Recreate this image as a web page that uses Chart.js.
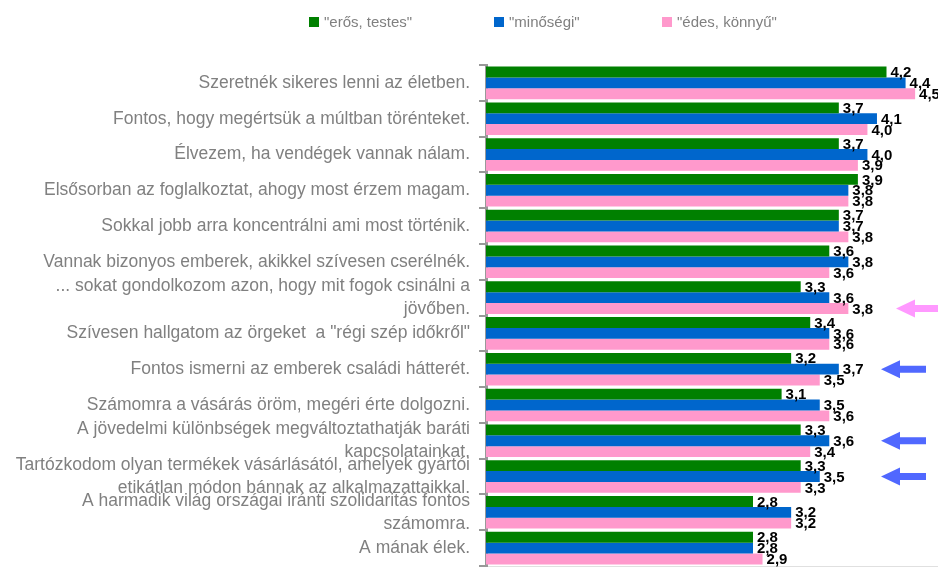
<!DOCTYPE html>
<html>
<head>
<meta charset="utf-8">
<script src="https://cdn.jsdelivr.net/npm/chart.js@4.4.1/dist/chart.umd.min.js"></script>
<style>
    html, body { margin: 0; padding: 0; background: #fff; overflow: hidden; }
    #wrap { position: relative; width: 938px; height: 567px; }
    #legend { position: absolute; top: 0; left: 0; width: 938px; height: 40px; font-family: 'Liberation Sans', Arial, sans-serif; font-size: 15px; color: #808080; }
    #legend .item { position: absolute; top: 13px; display: flex; align-items: center; white-space: nowrap; }
    #legend .box { width: 10px; height: 10px; margin-right: 5px; }
</style>
</head>
<body>
<div id="wrap">
    <canvas id="chart" width="938" height="567"></canvas>
    <div id="legend"></div>
</div>
<script>
/* ==========================================
   Horizontal grouped bars - attitude items
   ========================================== */

const categories = [
    'Szeretnék sikeres lenni az életben.',
    'Fontos, hogy megértsük a múltban törénteket.',
    'Élvezem, ha vendégek vannak nálam.',
    'Elsősorban az foglalkoztat, ahogy most érzem magam.',
    'Sokkal jobb arra koncentrálni ami most történik.',
    'Vannak bizonyos emberek, akikkel szívesen cserélnék.',
    ['... sokat gondolkozom azon, hogy mit fogok csinálni a', 'jövőben.'],
    'Szívesen hallgatom az örgeket  a "régi szép időkről"',
    'Fontos ismerni az emberek családi hátterét.',
    'Számomra a vásárás öröm, megéri érte dolgozni.',
    ['A jövedelmi különbségek megváltoztathatják baráti', 'kapcsolatainkat.'],
    ['Tartózkodom olyan termékek vásárlásától, amelyek gyártói', 'etikátlan módon bánnak az alkalmazattaikkal.'],
    ['A harmadik világ országai iránti szolidaritás fontos', 'számomra.'],
    'A mának élek.'
];

const seriesNames = ['"erős, testes"', '"minőségi"', '"édes, könnyű"'];
const strongValues  = [4.2, 3.7, 3.7, 3.9, 3.7, 3.6, 3.3, 3.4, 3.2, 3.1, 3.3, 3.3, 2.8, 2.8];
const qualityValues = [4.4, 4.1, 4.0, 3.8, 3.7, 3.8, 3.6, 3.6, 3.7, 3.5, 3.6, 3.5, 3.2, 2.8];
const sweetValues   = [4.5, 4.0, 3.9, 3.8, 3.8, 3.6, 3.8, 3.6, 3.5, 3.6, 3.4, 3.3, 3.2, 2.9];

// highlighted rows: [category index, series index]
const arrowRows = [[6, 2], [8, 1], [10, 1], [11, 1]];

const colors = ['#008000', '#0066CC', '#FF99CC'];
const arrowColors = ['#008000', '#5068FF', '#FF99FF'];
const FONT = "'Liberation Sans', Arial, sans-serif";

// legend (html, uneven spacing like the original)
const legendLeft = [309, 494, 662];
const legendEl = document.getElementById('legend');
seriesNames.forEach((name, i) => {
    const it = document.createElement('div');
    it.className = 'item';
    it.style.left = legendLeft[i] + 'px';
    it.innerHTML = '<span class="box" style="background:' + colors[i] + '"></span><span>' + name + '</span>';
    legendEl.appendChild(it);
});

const valueLabels = {
    id: 'valueLabels',
    afterDatasetsDraw(chart) {
        const ctx = chart.ctx;
        ctx.save();
        ctx.font = 'bold 15px ' + FONT;
        ctx.fillStyle = '#000';
        ctx.textAlign = 'left';
        ctx.textBaseline = 'middle';
        chart.data.datasets.forEach((ds, di) => {
            chart.getDatasetMeta(di).data.forEach((bar, i) => {
                ctx.fillText(ds.data[i].toFixed(1).replace('.', ','), bar.x + 4, bar.y + 1);
            });
        });
        ctx.restore();
    }
};

const arrows = {
    id: 'arrows',
    afterDraw(chart) {
        const ctx = chart.ctx;
        ctx.save();
        arrowRows.forEach(([row, di]) => {
            const bar = chart.getDatasetMeta(di).data[row];
            const y = bar.y;
            const x0 = di === 2 ? 896 : 881;
            const len = di === 2 ? 46 : 45;
            ctx.fillStyle = arrowColors[di];
            ctx.beginPath();
            ctx.moveTo(x0, y);
            ctx.lineTo(x0 + 19, y - 9);
            ctx.lineTo(x0 + 19, y - 3.5);
            ctx.lineTo(x0 + len, y - 3.5);
            ctx.lineTo(x0 + len, y + 3.5);
            ctx.lineTo(x0 + 19, y + 3.5);
            ctx.lineTo(x0 + 19, y + 9);
            ctx.closePath();
            ctx.fill();
        });
        ctx.restore();
    }
};

new Chart(document.getElementById('chart'), {
    type: 'bar',
    data: {
        labels: categories,
        datasets: [
            { label: seriesNames[0], data: strongValues, backgroundColor: colors[0] },
            { label: seriesNames[1], data: qualityValues, backgroundColor: colors[1] },
            { label: seriesNames[2], data: sweetValues, backgroundColor: colors[2] }
        ]
    },
    options: {
        responsive: false,
        animation: false,
        indexAxis: 'y',
        categoryPercentage: 0.91,
        barPercentage: 1.0,
        layout: { padding: { top: 65, bottom: 1 } },
        scales: {
            x: {
                min: 0, max: 4.74,
                ticks: { display: false },
                grid: { display: false, drawTicks: false },
                border: { color: '#e0e0e0' }
            },
            y: {
                afterFit(scale) { scale.width = 486; scale.paddingTop = 0; scale.paddingBottom = 0; },
                ticks: { autoSkip: false, color: '#808080', padding: 9, font: { family: FONT, size: 17.5, lineHeight: 1.33 } },
                grid: { drawOnChartArea: false, tickLength: 7, color: '#999', lineWidth: 2 },
                border: { color: '#999', width: 3 }
            }
        },
        plugins: {
            legend: { display: false },
            tooltip: { enabled: false }
        }
    },
    plugins: [valueLabels, arrows]
});
</script>
</body>
</html>
